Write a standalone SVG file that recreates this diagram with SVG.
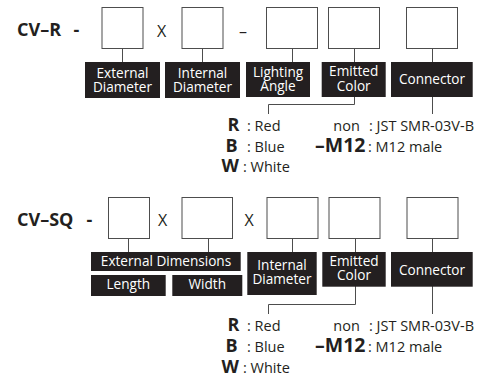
<svg xmlns="http://www.w3.org/2000/svg" width="493" height="376" viewBox="0 0 493 376">
<style>
text{font-family:"Open Sans","DejaVu Sans",sans-serif;fill:#231f20}
.t{font-size:18px;font-weight:700}
.x{font-size:16px}
.box{fill:#fff;stroke:#4d4d4d;stroke-width:1}
.lab{fill:#231f20}
.lt{font-size:13.6px;fill:#fff;text-anchor:middle}
.ln{fill:none;stroke:#4d4d4d;stroke-width:1}
.b{font-size:18px;font-weight:700}
.m{font-size:19.5px;font-weight:700}
.n{font-size:14.5px}
</style>
<rect width="493" height="376" fill="#fff"/>
<g id="title1"><text class="t" x="17" y="36">CV–R</text><text class="t" x="73.5" y="36">-</text><text class="x" x="157" y="37">X</text><text class="x" x="239" y="37">–</text></g>
<g id="boxes1">
<rect class="box" x="102" y="7.5" width="41" height="41"/>
<rect class="box" x="182" y="7.5" width="41" height="41"/>
<rect class="box" x="266.5" y="7.5" width="51" height="41"/>
<rect class="box" x="328.5" y="7.5" width="51" height="41"/>
<rect class="box" x="406.5" y="7.5" width="51" height="41"/>
</g>
<g id="connectors">
<path class="ln" d="M122.5 48.5V62M202.5 48.5V62M292.5 48.5V62M354.5 48.5V62M432.5 48.5V62"/>
<path class="ln" d="M354.5 97V104.5H268.5V114M432.5 97V114"/>
<path class="ln" d="M128.5 238.5V252M208.5 238.5V252M292.5 238.5V252M355.5 238.5V252M432.5 238.5V252"/>
<path class="ln" d="M355.5 286V304.5H268.5V314M432.5 286V314"/>
</g>
<g id="ext-dia"><rect class="lab" x="85" y="62" width="75" height="36"/><text class="lt" x="122.5" y="78">External</text><text class="lt" x="122.5" y="92.2">Diameter</text></g>
<g id="int-dia"><rect class="lab" x="165" y="62" width="75" height="36"/><text class="lt" x="202.5" y="77.8">Internal</text><text class="lt" x="202.5" y="92.2">Diameter</text></g>
<g id="light"><rect class="lab" x="246" y="62" width="64" height="35"/><text class="lt" x="278" y="76.6">Lighting</text><text class="lt" x="278" y="91">Angle</text></g>
<g id="emit1"><rect class="lab" x="321.7" y="62" width="64" height="35"/><text class="lt" x="353.7" y="76.3">Emitted</text><text class="lt" x="353.7" y="90.5">Color</text></g>
<g id="conn1"><rect class="lab" x="391" y="62" width="81.7" height="35"/><text class="lt" x="432" y="84">Connector</text></g>
<g id="legend1">
<text class="b" x="227.5" y="131">R</text><text class="n" x="247" y="131">: Red</text>
<text class="b" x="225.5" y="151.7">B</text><text class="n" x="247" y="151.7">: Blue</text>
<text class="b" x="221.5" y="172">W</text><text class="n" x="243" y="172">: White</text>
<text class="n" x="333.3" y="131">non</text><text class="n" x="369" y="131">: JST SMR-03V-B</text>
<text class="m" x="315" y="151.7">–M12</text><text class="n" x="368" y="151.7">: M12 male</text>
</g>
<g id="title2"><text class="t" x="17" y="225.7">CV–SQ</text><text class="t" x="86.5" y="225.7">-</text><text class="x" x="158" y="226">X</text><text class="x" x="244.5" y="226">X</text></g>
<g id="boxes2">
<rect class="box" x="108.5" y="197.5" width="41" height="41"/>
<rect class="box" x="182" y="197.5" width="50.5" height="41"/>
<rect class="box" x="267" y="197.5" width="51" height="41"/>
<rect class="box" x="329" y="197.5" width="51" height="41"/>
<rect class="box" x="407" y="197.5" width="51" height="41"/>
</g>
<g id="ext-dim"><rect class="lab" x="91" y="252" width="149.7" height="19"/><text class="lt" x="166" y="266">External Dimensions</text></g>
<g id="length"><rect class="lab" x="91" y="275" width="74.7" height="21"/><text class="lt" x="128.3" y="288.5">Length</text></g>
<g id="width"><rect class="lab" x="172.3" y="275" width="70" height="21"/><text class="lt" x="207.3" y="288.5">Width</text></g>
<g id="int-dia2"><rect class="lab" x="247.3" y="252" width="69.4" height="43"/><text class="lt" x="282" y="269.8">Internal</text><text class="lt" x="282" y="284">Diameter</text></g>
<g id="emit2"><rect class="lab" x="322.3" y="252" width="63.4" height="34.7"/><text class="lt" x="354" y="266">Emitted</text><text class="lt" x="354" y="280.2">Color</text></g>
<g id="conn2"><rect class="lab" x="391" y="252" width="81.7" height="34.7"/><text class="lt" x="432" y="275">Connector</text></g>
<g id="legend2">
<text class="b" x="227.5" y="330.7">R</text><text class="n" x="247" y="330.7">: Red</text>
<text class="b" x="225.5" y="351.7">B</text><text class="n" x="247" y="351.7">: Blue</text>
<text class="b" x="221.5" y="372.5">W</text><text class="n" x="243" y="372.5">: White</text>
<text class="n" x="333.3" y="330.7">non</text><text class="n" x="369" y="330.7">: JST SMR-03V-B</text>
<text class="m" x="315" y="351.7">–M12</text><text class="n" x="368" y="351.7">: M12 male</text>
</g>
</svg>
